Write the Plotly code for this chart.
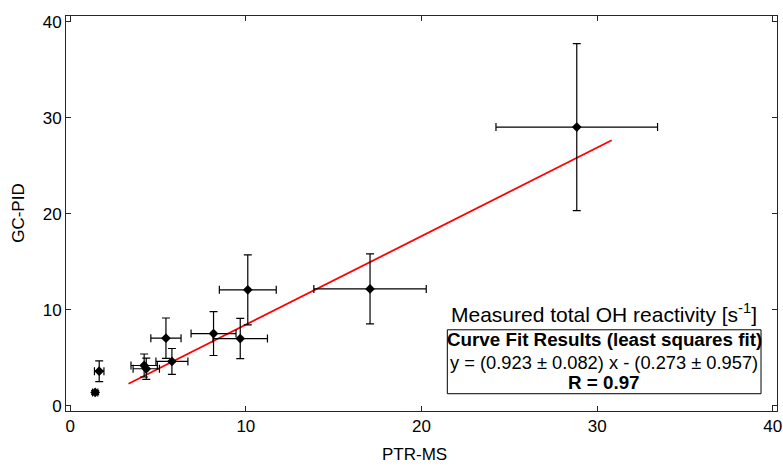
import plotly.graph_objects as go

# Data
ptr_ms = [1.42, 1.65, 4.21, 4.33, 5.45, 5.79, 8.16, 9.68, 10.11, 17.07, 28.84]
gc_pid = [1.38, 3.60, 4.19, 3.85, 7.04, 4.61, 7.52, 7.00, 12.07, 12.17, 29.03]
ptr_err = [0.15, 0.27, 0.75, 0.75, 0.86, 0.91, 1.28, 1.55, 1.62, 3.20, 4.60]
gc_err = [0.20, 1.08, 1.20, 1.10, 2.10, 1.35, 2.29, 2.10, 3.65, 3.65, 8.70]

fit_x = [3.32, 30.83]
fit_y = [2.29, 27.65]

x_ticks = [0, 10, 20, 30, 40]
y_ticks = [0, 10, 20, 30, 40]

FONT = "Liberation Sans, Arial, sans-serif"
AX = "#262626"

fig = go.Figure()
fig.add_trace(go.Scatter(
    x=fit_x, y=fit_y, mode="lines",
    line=dict(color="#ff0000", width=1.8), showlegend=False, hoverinfo="skip"))
fig.add_trace(go.Scatter(
    x=ptr_ms, y=gc_pid, mode="markers",
    marker=dict(symbol="diamond", size=7.5, color="black"),
    error_x=dict(type="data", array=ptr_err, color="black", thickness=1.2, width=4),
    error_y=dict(type="data", array=gc_err, color="black", thickness=1.2, width=4),
    showlegend=False))

axis_common = dict(
    showline=True, linecolor=AX, linewidth=1, mirror="ticks",
    ticks="inside", ticklen=5, tickwidth=1, tickcolor=AX,
    showgrid=False, zeroline=False,
    tickfont=dict(family=FONT, size=17, color="black"),
)
fig.update_xaxes(range=[-0.24, 40.24], tickvals=x_ticks, **axis_common)
fig.update_yaxes(range=[-0.55, 40.6], tickvals=y_ticks, **axis_common)

# fit results box
fig.add_shape(type="rect", xref="x", yref="y", x0=21.47, x1=39.33, y0=1.25, y1=7.91,
              line=dict(color="black", width=1), fillcolor="white", layer="above")

ann = []
ann.append(dict(x=39.2, y=9.68, xref="x", yref="y", xanchor="right", yanchor="middle",
                text="Measured total OH reactivity [s<sup>-1</sup>]", showarrow=False,
                font=dict(family=FONT, size=21, color="black")))
ann.append(dict(x=30.4, y=6.87, xref="x", yref="y", xanchor="center", yanchor="middle",
                text="<b>Curve Fit Results (least squares fit)</b>", showarrow=False,
                font=dict(family=FONT, size=18.8, color="black")))
ann.append(dict(x=30.4, y=4.55, xref="x", yref="y", xanchor="center", yanchor="middle",
                text="y = (0.923 ± 0.082) x - (0.273 ± 0.957)", showarrow=False,
                font=dict(family=FONT, size=18.3, color="black")))
ann.append(dict(x=30.4, y=2.39, xref="x", yref="y", xanchor="center", yanchor="middle",
                text="<b>R = 0.97</b>", showarrow=False,
                font=dict(family=FONT, size=18.8, color="black")))
# axis titles
ann.append(dict(x=(414.5 - 66) / 711, y=-(455 - 411) / 395, xref="paper", yref="paper",
                xanchor="center", yanchor="middle", text="PTR-MS", showarrow=False,
                font=dict(family=FONT, size=17, color="black")))
ann.append(dict(x=-(66 - 18.3) / 711, y=(411 - 212.5) / 395, xref="paper", yref="paper",
                xanchor="center", yanchor="middle", text="GC-PID", showarrow=False,
                textangle=-90, font=dict(family=FONT, size=17, color="black")))

fig.update_layout(
    width=783, height=466,
    margin=dict(l=66, r=6, t=16, b=55, autoexpand=False),
    paper_bgcolor="white", plot_bgcolor="white",
    annotations=ann,
    font=dict(family=FONT, color="black"),
)

fig.write_html(
    "out.html",
    config={"displayModeBar": False},
    post_script="document.body.style.margin='0';document.body.style.overflow='hidden';",
)
